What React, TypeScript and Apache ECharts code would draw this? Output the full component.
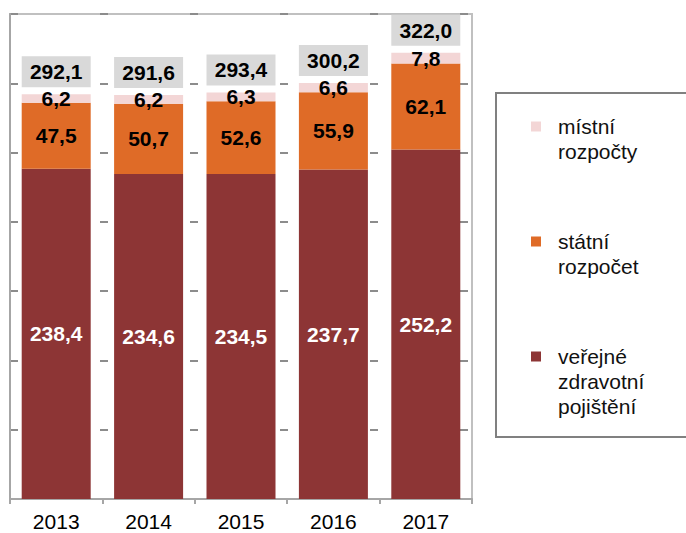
import React, { useEffect, useRef } from "react";
import * as echarts from "echarts";

const categories = ["2013", "2014", "2015", "2016", "2017"];
const seriesNames = ["veřejné zdravotní pojištění", "státní rozpočet", "místní rozpočty"];
const legendLines: Record<string, string[]> = {
  "místní rozpočty": ["místní", "rozpočty"],
  "státní rozpočet": ["státní", "rozpočet"],
  "veřejné zdravotní pojištění": ["veřejné", "zdravotní", "pojištění"],
};
const insurance = [238.4, 234.6, 234.5, 237.7, 252.2];
const stateBudget = [47.5, 50.7, 52.6, 55.9, 62.1];
const localBudgets = [6.2, 6.2, 6.3, 6.6, 7.8];
const totals = [292.1, 291.6, 293.4, 300.2, 322.0];
const colors = ["#8d3535", "#df6b27", "#f3d6d6"];

const fmt = (v: number) => v.toFixed(1).replace(".", ",");
const FONT = "'Liberation Sans', Arial, sans-serif";
const FS = 21;

export default function App() {
  const ref = useRef<HTMLDivElement>(null);
  useEffect(() => {
    if (!ref.current) return;
    const chart = echarts.init(ref.current, null, { renderer: "svg" });
    const labelBase = {
      show: true,
      position: "inside" as const,
      fontSize: FS,
      fontWeight: "bold" as const,
      fontFamily: FONT,
      formatter: (p: any) => fmt(p.value),
    };
    const seriesData = [insurance, stateBudget, localBudgets];
    chart.setOption({
      animation: false,
      textStyle: { fontFamily: FONT },
      grid: {
        left: 10,
        right: 214,
        top: 14,
        bottom: 34,
        show: true,
        borderColor: "#c0c0c0",
        borderWidth: 2,
      },
      xAxis: {
        type: "category",
        data: categories,
        axisLine: { lineStyle: { color: "#a6a6a6", width: 2 } },
        axisTick: { show: true, length: 5, lineStyle: { color: "#a6a6a6", width: 2 } },
        axisLabel: { fontSize: FS, color: "#000", fontFamily: FONT, margin: 12 },
      },
      yAxis: {
        type: "value",
        min: 0,
        max: 350,
        interval: 50,
        axisLabel: { show: false },
        axisTick: { show: false },
        axisLine: { show: true, lineStyle: { color: "#a6a6a6", width: 2 } },
        splitLine: {
          show: true,
          lineStyle: { color: "#8c8c8c", width: 2, type: [8, 82] },
        },
      },
      legend: {
        orient: "vertical",
        left: 531,
        top: 64,
        padding: 0,
        itemGap: -10,
        itemWidth: 22,
        itemHeight: 10,
        icon: "path://M0,0L10,0L10,10L0,10Z M22,10L22,10",
        symbolKeepAspect: false,
        textStyle: { fontSize: FS, lineHeight: 25, color: "#111", fontFamily: FONT },
        formatter: (name: string) => {
          const lines = legendLines[name] || [name];
          // pad with empty lines so the first text line sits at the icon's height
          const out: string[] = [];
          for (let i = 0; i < 2; i++) out.push("");
          out.push(...lines);
          while (out.length < 5) out.push("");
          return out.join("\n");
        },
        data: [seriesNames[2], seriesNames[1], seriesNames[0]],
      },
      graphic: [
        {
          type: "rect",
          shape: { x: 496, y: 93, width: 230, height: 344 },
          style: { fill: "none", stroke: "#808080", lineWidth: 2 },
          silent: true,
        },
      ],
      series: [
        ...seriesData.map((d, i) => ({
          name: seriesNames[i],
          type: "bar",
          stack: "total",
          data: d,
          barWidth: 69,
          itemStyle: { color: colors[i] },
          label: { ...labelBase, color: i === 0 ? "#ffffff" : "#000000" },
        })),
        {
          name: "total",
          type: "bar",
          stack: "total",
          data: totals.map(() => 0),
          barWidth: 69,
          itemStyle: { color: "rgba(0,0,0,0)" },
          label: {
            show: true,
            position: "top",
            distance: 7,
            fontSize: FS,
            fontWeight: "bold",
            fontFamily: FONT,
            color: "#000",
            backgroundColor: "#d9d9d9",
            width: 69,
            align: "center",
            padding: [5, 0, 5, 0],
            formatter: (p: any) => fmt(totals[p.dataIndex]),
          },
        },
      ],
    });
    return () => chart.dispose();
  }, []);
  return (
    <div
      ref={ref}
      style={{ position: "fixed", left: 0, top: 0, width: 686, height: 533, background: "#fff" }}
    />
  );
}
